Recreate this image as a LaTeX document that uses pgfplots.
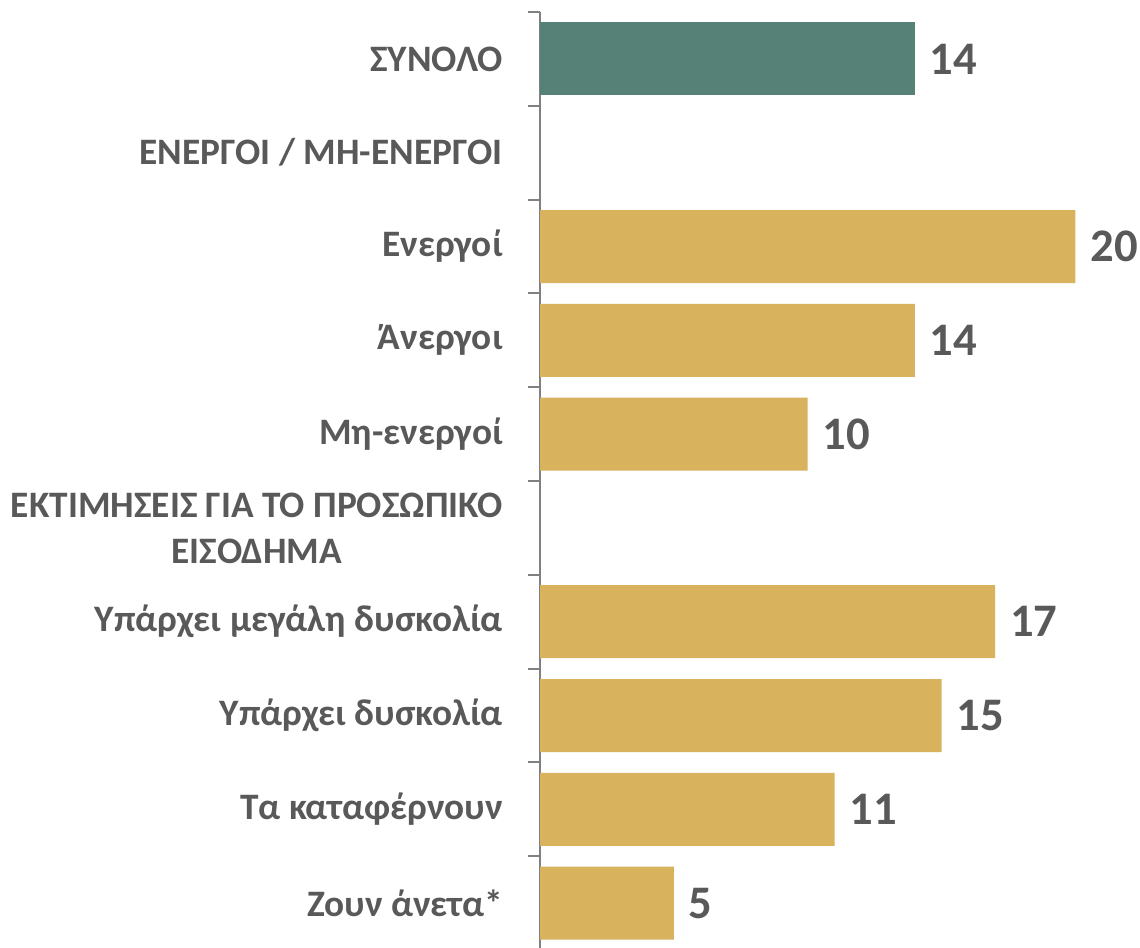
\documentclass[border=0pt]{standalone}
\usepackage{pgfplots}
\pgfplotsset{compat=1.18}
\usepackage{fontspec}
\setmainfont{Carlito}
\definecolor{teal1}{HTML}{568176}
\definecolor{gold1}{HTML}{D8B25D}
\definecolor{txt}{HTML}{595959}
\definecolor{axgray}{HTML}{808080}
\begin{document}
\begin{tikzpicture}
\begin{axis}[
 scale only axis, width=450pt, height=703.5pt,
 xbar, bar width=54.75pt, bar shift=0pt,
 xmin=0, xmax=22.41, ymin=-0.5, ymax=9.5, y dir=reverse,
 enlargelimits=false,
 axis x line=none, axis y line*=left,
 y axis line style={axgray, line width=1.5pt},
 ytick={0,...,9},
 yticklabels={ΣΥΝΟΛΟ, ΕΝΕΡΓΟΙ / ΜΗ-ΕΝΕΡΓΟΙ, Ενεργοί, Άνεργοι, Μη-ενεργοί, {ΕΚΤΙΜΗΣΕΙΣ ΓΙΑ ΤΟ ΠΡΟΣΩΠΙΚΟ\\ΕΙΣΟΔΗΜΑ}, Υπάρχει μεγάλη δυσκολία, Υπάρχει δυσκολία, Τα καταφέρνουν, Ζουν άνετα*},
 major tick length=0pt,
 minor ytick={-0.5,0.5,...,9.5},
 minor tick length=9pt, tick align=outside,
 minor tick style={axgray, line width=1.5pt},
 yticklabel style={font=\fontsize{28}{34.5}\selectfont\bfseries, text=txt, align=center, inner sep=0pt, xshift=-27.75pt},
 nodes near coords,
 nodes near coords style={font=\fontsize{35}{40}\selectfont\bfseries, text=txt, anchor=west, inner sep=0pt, xshift=11pt},
 /pgf/number format/assume math mode=true,
 clip=false,
]
\addplot[fill=teal1, draw=none] coordinates {(14,0)};
\addplot[fill=gold1, draw=none] coordinates {(20,2) (14,3) (10,4) (17,6) (15,7) (11,8) (5,9)};
\coordinate (bbbl) at (axis cs:-20.17,9.468);
\coordinate (bbtr) at (axis cs:22.41,-0.628);
\end{axis}
\pgfresetboundingbox
\path (bbbl) rectangle (bbtr);
\end{tikzpicture}
\end{document}
